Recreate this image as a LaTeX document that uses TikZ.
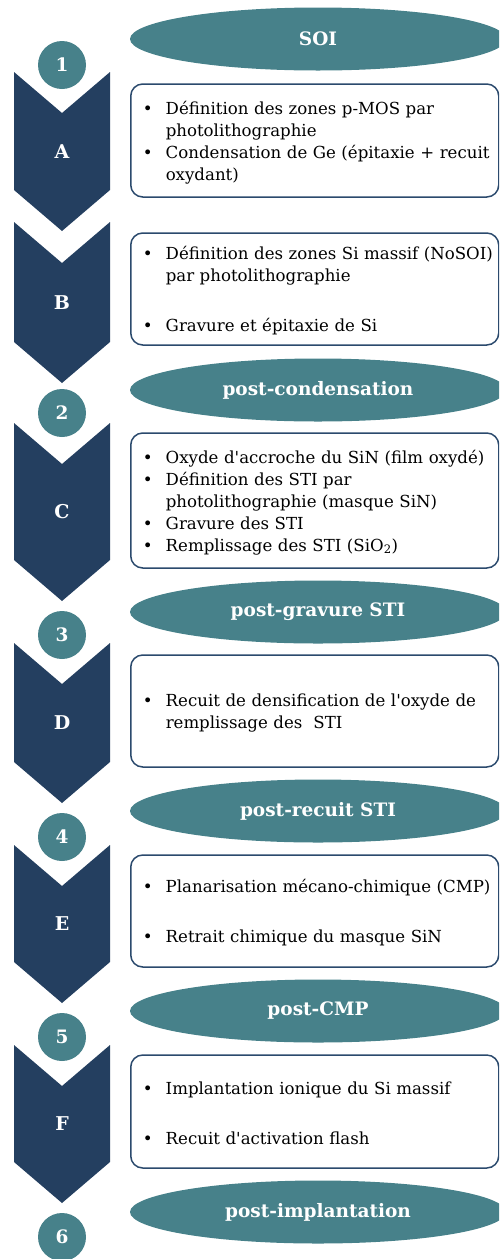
\documentclass[tikz,border=0pt]{standalone}
\usepackage{fontspec}
\setmainfont{DejaVu Serif}[Ligatures=TeXOff]
\usetikzlibrary{shapes.geometric}
\definecolor{marine}{HTML}{243F60}
\definecolor{canard}{HTML}{47818A}
\definecolor{bord}{HTML}{2B4A6D}
\newcommand\puce[1]{\par\hangindent=32pt\hangafter=1\noindent\hspace*{9pt}\makebox[23pt][l]{\textbullet}#1\par}
\newcommand\saut{\par\vspace{28pt}}
\newcommand\finbloc{\par\vspace{5pt}}
\begin{document}
\begin{tikzpicture}[x=1pt,y=-1pt,
	etat/.style={ellipse,fill=canard,minimum width=376,minimum height=63,inner sep=0pt,text=white,font=\bfseries\fontsize{18.5}{20}\selectfont},
	num/.style={circle,fill=canard,minimum size=48,inner sep=0pt,text=white,font=\bfseries\fontsize{18.5}{20}\selectfont},
	lettre/.style={text=white,font=\bfseries\fontsize{19}{20}\selectfont},
	etape/.style={draw=bord,line width=1.5pt,rounded corners=12pt,anchor=west,minimum width=368,text width=362pt,inner xsep=3pt,inner ysep=0pt,align=left,font=\fontsize{16.6}{22}\selectfont,execute at end node=\finbloc}]
			\useasboundingbox (0,0) rectangle (499,1259);
			\clip (0,0) rectangle (499,1259);
			\foreach \l/\t/\b in {A/72/190,B/222/342,C/423/560,D/643/762,E/845/962,F/1045/1162}{
				\fill[marine] (14,\t) -- (62,\t+41) -- (110,\t) -- (110,\b) -- (62,\b+41) -- (14,\b) -- cycle;
				\node[lettre] (l\l) at (62,{(\t+\b+41)/2}) {\l};
			}
			\foreach \n/\y in {1/65,2/413,3/635,4/837,5/1037,6/1237}
				\node[num] (c\n) at (62,\y) {\n};
			\foreach \nom/\y/\txt in {soi/39/SOI,cond/390/post-condensation,grav/612/post-gravure STI,recuit/811/post-recuit STI,cmp/1011/post-CMP,impl/1212/post-implantation}
				\node[etat] (\nom) at (318,\y) {\txt};
			\node[etape,minimum height=113] (bA) at (130,140.5) {\puce{Définition des zones p-MOS par\newline photolithographie}\puce{Condensation de Ge (épitaxie + recuit\newline oxydant)}};
			\node[etape,minimum height=112] (bB) at (130,289) {\puce{Définition des zones Si massif (NoSOI)\newline par photolithographie}\saut\puce{Gravure et épitaxie de Si}};
			\node[etape,minimum height=135] (bC) at (130,500.5) {\puce{Oxyde d'accroche du SiN (film oxydé)}\puce{Définition des STI par\newline photolithographie (masque SiN)}\puce{Gravure des STI}\puce{Remplissage des STI (SiO\textsubscript{2})}};
			\node[etape,minimum height=112] (bD) at (130,711) {\puce{Recuit de densification de l'oxyde de\newline remplissage des~ STI}};
			\node[etape,minimum height=112] (bE) at (130,911) {\puce{Planarisation mécano-chimique (CMP)}\saut\puce{Retrait chimique du masque SiN}};
			\node[etape,minimum height=113] (bF) at (130,1111.5) {\puce{Implantation ionique du Si massif}\saut\puce{Recuit d'activation flash}};
	\end{tikzpicture}
\end{document}
